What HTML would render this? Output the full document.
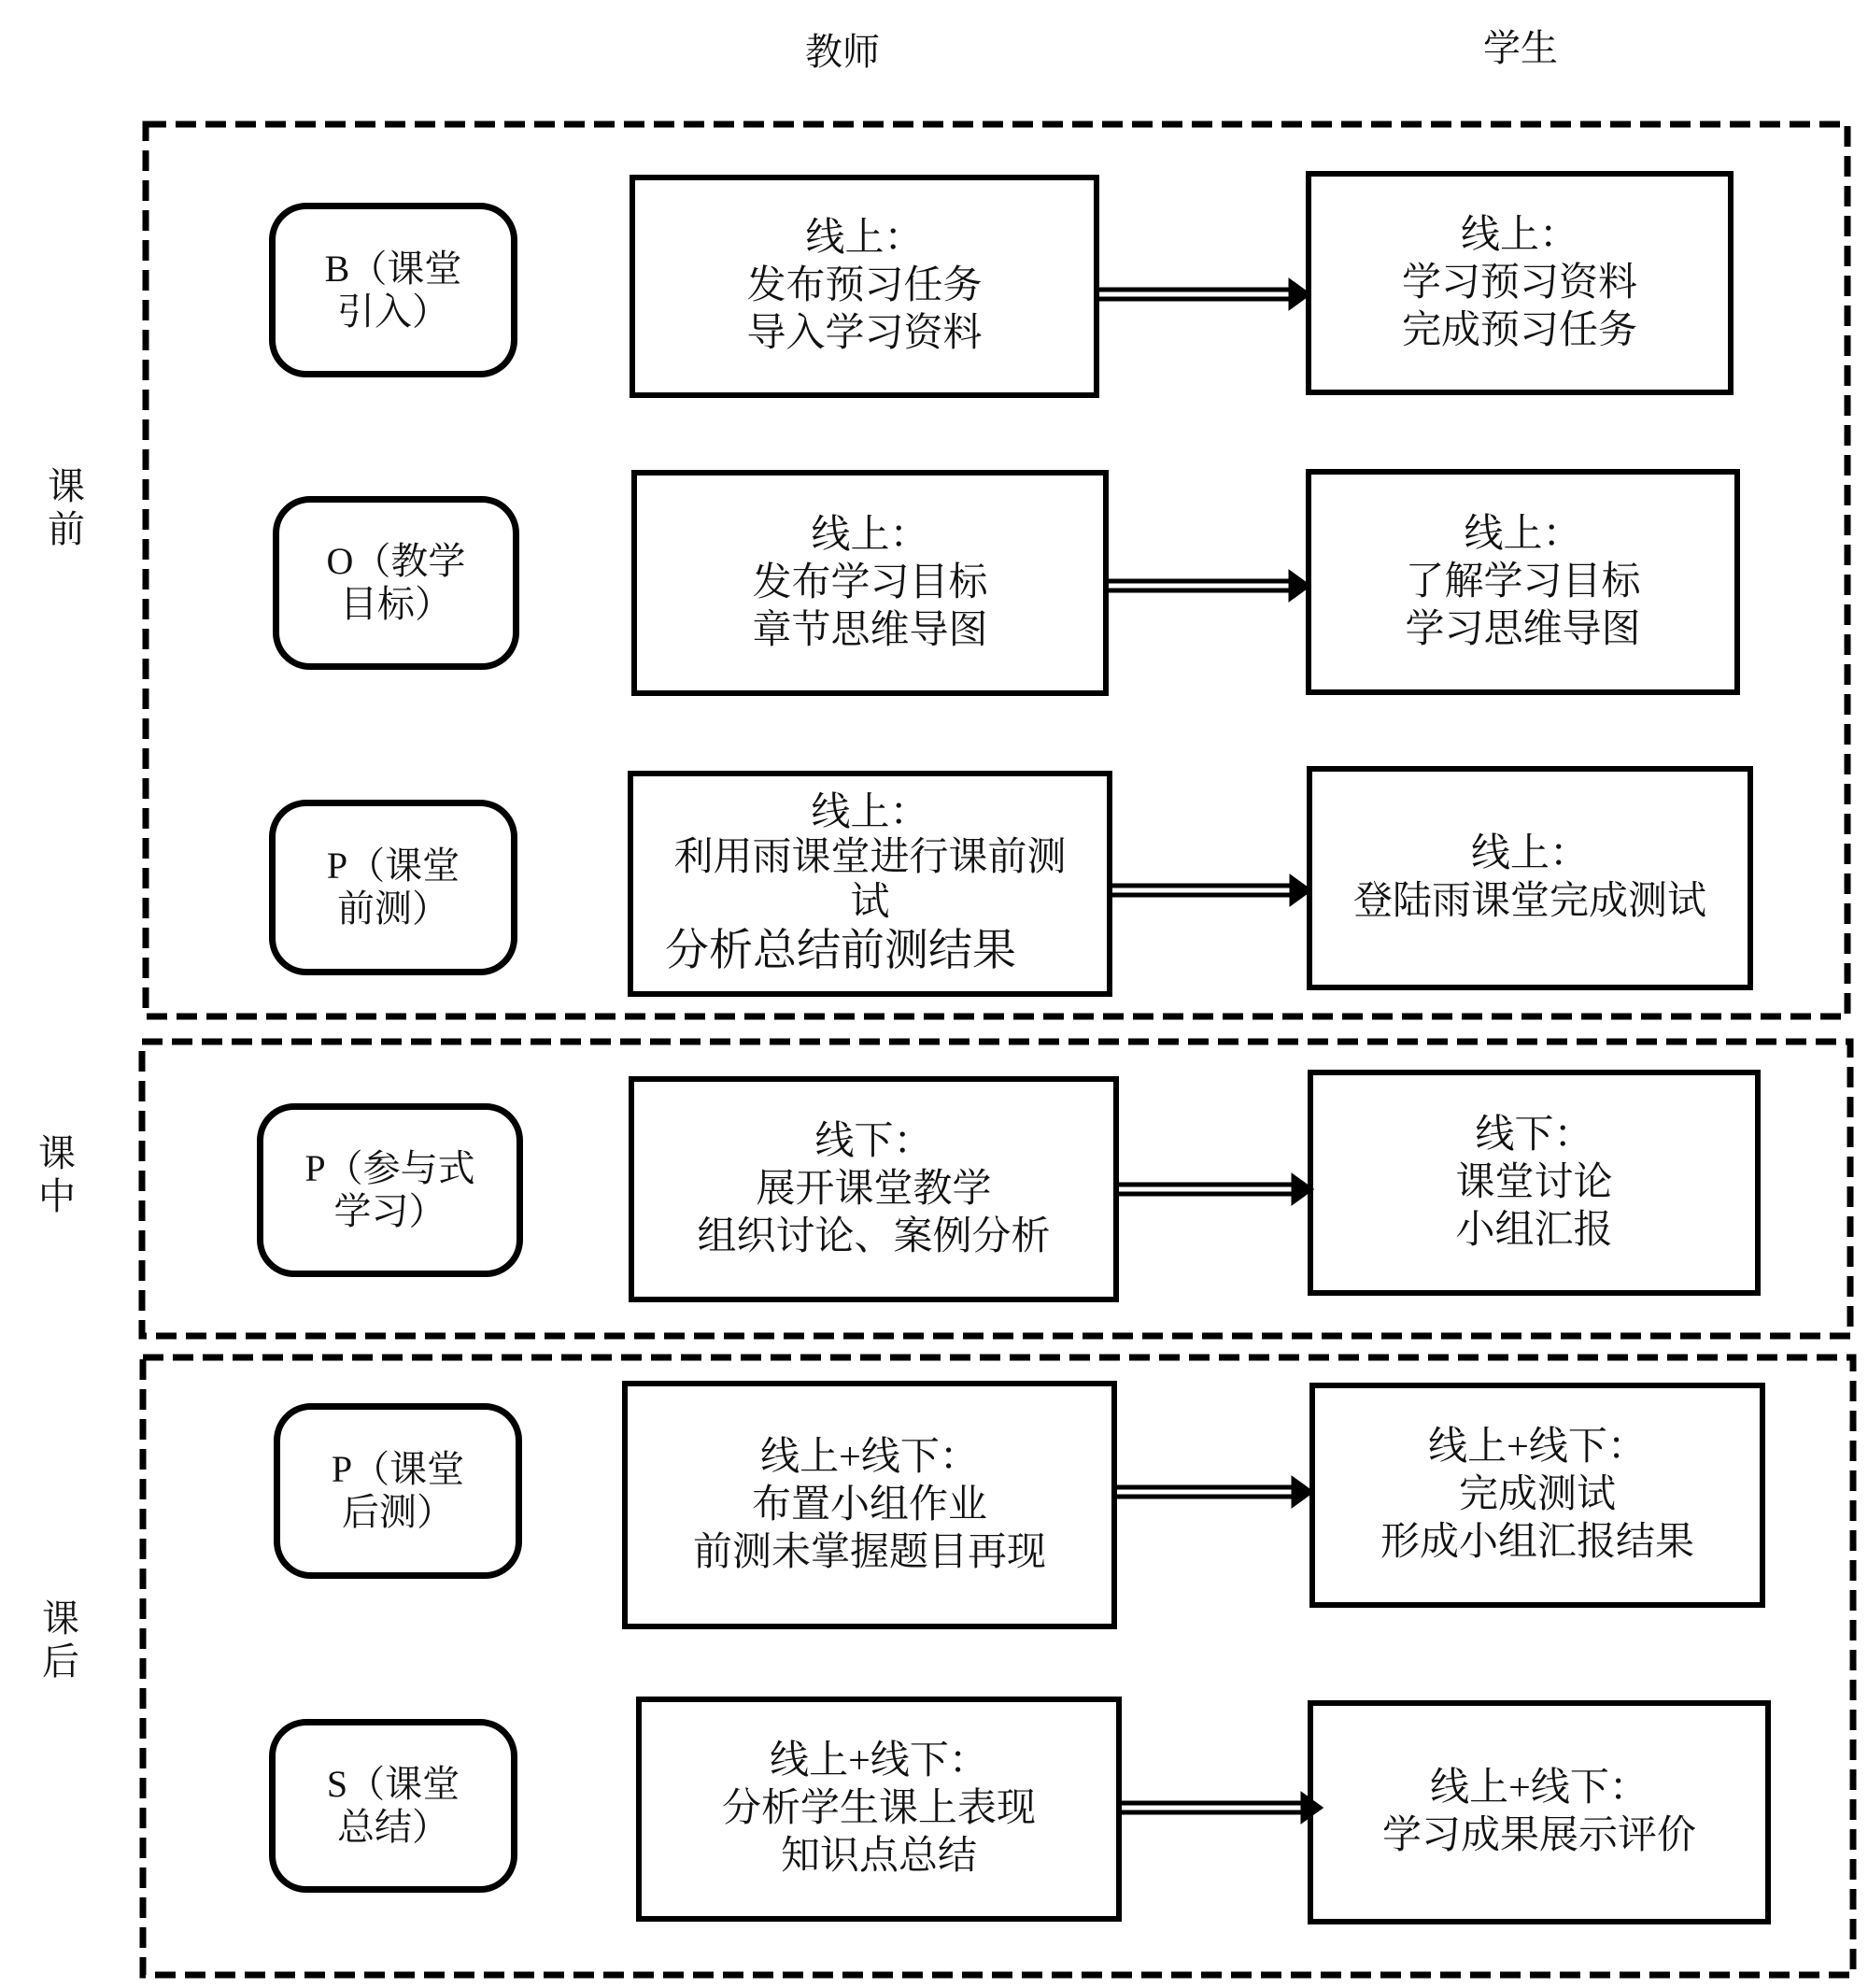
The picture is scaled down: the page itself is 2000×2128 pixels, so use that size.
<!DOCTYPE html>
<html><head><meta charset="utf-8"><style>
body{margin:0;background:#fff;}
#c{position:relative;width:2000px;height:2128px;overflow:hidden;font-family:"Liberation Serif","Noto Serif CJK SC",serif;color:#111;}
.a{position:absolute;}
.rb{position:absolute;box-sizing:border-box;border:7px solid #000;border-radius:40px;display:flex;align-items:center;justify-content:center;text-align:center;font-size:40px;line-height:46px;}
.bx{position:absolute;box-sizing:border-box;border:6px solid #000;display:flex;flex-direction:column;align-items:center;justify-content:center;text-align:center;font-size:42px;line-height:51px;}
.lb{position:absolute;font-size:40px;line-height:46px;width:50px;text-align:center;}
</style></head><body><div id="c">
<div class="a" style="left:862px;top:24px;font-size:40px;">教师</div>
<div class="a" style="left:1588px;top:20px;font-size:40px;">学生</div>
<div class="lb" style="left:46px;top:498px;">课<br>前</div>
<div class="lb" style="left:36px;top:1212px;">课<br>中</div>
<div class="lb" style="left:40px;top:1710px;">课<br>后</div>

<svg class="a" style="left:0;top:0" width="2000" height="2128">
<g fill="none" stroke="#000" stroke-width="7" stroke-dasharray="22 10">
<rect x="156" y="133" width="1822" height="955"/>
<rect x="152" y="1115" width="1829" height="315"/>
<rect x="153" y="1453" width="1831" height="661"/>
</g>
<g stroke="#000" stroke-width="5" fill="#000">
<line x1="1177" y1="310" x2="1385" y2="310"/><line x1="1177" y1="320" x2="1385" y2="320"/><polygon points="1382,302 1400,315 1382,328"/>
<line x1="1187" y1="622" x2="1385" y2="622"/><line x1="1187" y1="632" x2="1385" y2="632"/><polygon points="1382,614 1400,627 1382,640"/>
<line x1="1191" y1="948" x2="1386" y2="948"/><line x1="1191" y1="958" x2="1386" y2="958"/><polygon points="1383,940 1401,953 1383,966"/>
<line x1="1198" y1="1268" x2="1388" y2="1268"/><line x1="1198" y1="1278" x2="1388" y2="1278"/><polygon points="1385,1260 1403,1273 1385,1286"/>
<line x1="1196" y1="1592" x2="1388" y2="1592"/><line x1="1196" y1="1602" x2="1388" y2="1602"/><polygon points="1385,1584 1403,1597 1385,1610"/>
<line x1="1201" y1="1930" x2="1398" y2="1930"/><line x1="1201" y1="1940" x2="1398" y2="1940"/><polygon points="1395,1922 1413,1935 1395,1948"/>
</g>
</svg>

<div class="rb" style="left:288px;top:217px;width:266px;height:187px;">B（课堂<br>引入）</div>
<div class="rb" style="left:292px;top:531px;width:264px;height:186px;">O（教学<br>目标）</div>
<div class="rb" style="left:288px;top:856px;width:266px;height:188px;">P（课堂<br>前测）</div>
<div class="rb" style="left:275px;top:1181px;width:285px;height:186px;">P（参与式<br>学习）</div>
<div class="rb" style="left:293px;top:1502px;width:266px;height:188px;">P（课堂<br>后测）</div>
<div class="rb" style="left:288px;top:1840px;width:266px;height:186px;">S（课堂<br>总结）</div>

<div class="bx" style="left:674px;top:187px;width:503px;height:239px;">线上：<br>发布预习任务<br>导入学习资料</div>
<div class="bx" style="left:676px;top:503px;width:511px;height:242px;">线上：<br>发布学习目标<br>章节思维导图</div>
<div class="bx" style="left:672px;top:825px;width:519px;height:242px;line-height:48px;"><div>线上：</div><div>利用雨课堂进行课前测</div><div>试</div><div style="font-size:47px;line-height:56px;align-self:flex-start;margin-left:34px;">分析总结前测结果</div></div>
<div class="bx" style="left:673px;top:1152px;width:525px;height:242px;">线下：<br>展开课堂教学<br>组织讨论、案例分析</div>
<div class="bx" style="left:666px;top:1478px;width:530px;height:266px;">线上+线下：<br>布置小组作业<br>前测未掌握题目再现</div>
<div class="bx" style="left:681px;top:1816px;width:520px;height:241px;">线上+线下：<br>分析学生课上表现<br>知识点总结</div>

<div class="bx" style="left:1398px;top:183px;width:458px;height:240px;">线上：<br>学习预习资料<br>完成预习任务</div>
<div class="bx" style="left:1398px;top:502px;width:465px;height:242px;">线上：<br>了解学习目标<br>学习思维导图</div>
<div class="bx" style="left:1399px;top:820px;width:478px;height:240px;">线上：<br>登陆雨课堂完成测试</div>
<div class="bx" style="left:1400px;top:1145px;width:485px;height:242px;">线下：<br>课堂讨论<br>小组汇报</div>
<div class="bx" style="left:1402px;top:1480px;width:488px;height:241px;">线上+线下：<br>完成测试<br>形成小组汇报结果</div>
<div class="bx" style="left:1400px;top:1820px;width:496px;height:240px;">线上+线下：<br>学习成果展示评价</div>
</div></body></html>
